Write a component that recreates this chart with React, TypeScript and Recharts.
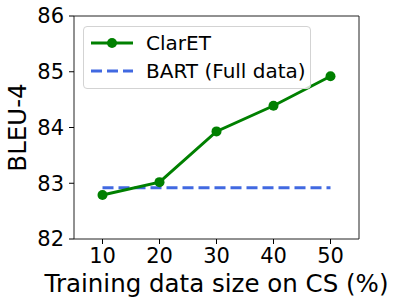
import React from "react";
import { LineChart, Line, XAxis, YAxis, Legend, ReferenceArea } from "recharts";

const trainingSizes = [10, 20, 30, 40, 50];
const claretBleu = [82.79, 83.02, 83.93, 84.39, 84.92];
const bartBleu = [82.92, 82.92, 82.92, 82.92, 82.92];
const xTicks = [10, 20, 30, 40, 50];
const yTicks = [82, 83, 84, 85, 86];

const data = trainingSizes.map((x, i) => ({ x, claret: claretBleu[i], bart: bartBleu[i] }));

const FONT = "'DejaVu Sans', sans-serif";
const GREEN = "#008000";
const BLUE = "#4169E1";

const LegendBox = () => (
  <div
    style={{
      width: 226,
      height: 61,
      border: "1px solid #d3d3d3",
      borderRadius: 4,
      background: "rgba(255,255,255,0.8)",
      fontFamily: FONT,
      fontSize: 20,
      color: "#000",
      position: "relative",
    }}
  >
    <svg width={60} height={61} style={{ position: "absolute", left: 0, top: 0 }}>
      <line x1={7} y1={16} x2={49} y2={16} stroke={GREEN} strokeWidth={3} />
      <circle cx={28} cy={16} r={5} fill={GREEN} />
      <line x1={7} y1={44} x2={49} y2={44} stroke={BLUE} strokeWidth={3} strokeDasharray="11 5" />
    </svg>
    <div style={{ position: "absolute", left: 62, top: 3, lineHeight: "26px", whiteSpace: "nowrap" }}>ClarET</div>
    <div style={{ position: "absolute", left: 62, top: 31, lineHeight: "26px", whiteSpace: "nowrap" }}>BART (Full data)</div>
  </div>
);

export default function App() {
  return (
    <div style={{ position: "absolute", left: 0, top: 0, width: 399, height: 306, background: "#fff" }}>
      <LineChart width={399} height={306} data={data} margin={{ top: 16, right: 40, left: 0, bottom: 0 }}>
        <XAxis
          dataKey="x"
          type="number"
          domain={[5, 55]}
          ticks={xTicks}
          axisLine={false}
          tickSize={5}
          tickMargin={4}
          height={67}
          tick={{ fontFamily: FONT, fontSize: 21, fill: "#000" }}
          tickLine={{ stroke: "#000" }}
          label={{
            content: (props: any) => {
              const vb = props.viewBox;
              return (
                <text x={vb.x + vb.width / 2} y={292} textAnchor="middle" fontFamily={FONT} fontSize={24.5} fill="#000">
                  Training data size on CS (%)
                </text>
              );
            },
          }}
        />
        <YAxis
          type="number"
          domain={[82, 86]}
          ticks={yTicks}
          axisLine={false}
          width={74}
          tickSize={5}
          tickMargin={5}
          tick={{ fontFamily: FONT, fontSize: 21, fill: "#000" }}
          tickLine={{ stroke: "#000" }}
          label={{
            content: (props: any) => {
              const vb = props.viewBox;
              const cy = vb.y + vb.height / 2;
              return (
                <text
                  x={26}
                  y={cy}
                  transform={`rotate(-90, 26, ${cy})`}
                  textAnchor="middle"
                  fontFamily={FONT}
                  fontSize={24.5}
                  fill="#000"
                >
                  BLEU-4
                </text>
              );
            },
          }}
        />
        <ReferenceArea x1={5} x2={55} y1={82} y2={86} fill="none" stroke="#222" strokeWidth={1} ifOverflow="visible" />
        <Line
          dataKey="bart"
          stroke={BLUE}
          strokeWidth={3}
          strokeDasharray="11 5"
          dot={false}
          isAnimationActive={false}
        />
        <Line
          dataKey="claret"
          stroke={GREEN}
          strokeWidth={3}
          dot={{ r: 5, fill: GREEN, stroke: GREEN, strokeWidth: 0 }}
          isAnimationActive={false}
        />
        <Legend
          layout="vertical"
          align="center"
          verticalAlign="middle"
          wrapperStyle={{ position: "absolute", left: 83, top: 26, width: "auto", height: "auto" }}
          content={() => <LegendBox />}
        />
      </LineChart>
    </div>
  );
}
